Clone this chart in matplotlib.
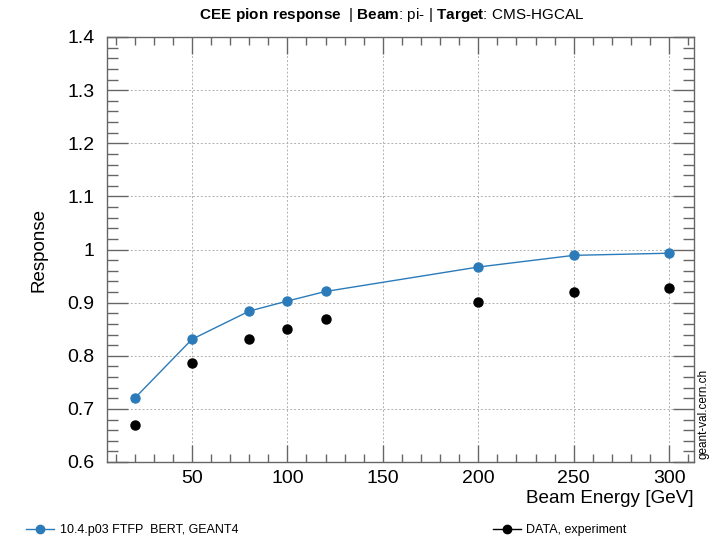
import matplotlib
matplotlib.use("Agg")
import matplotlib.pyplot as plt
from matplotlib.ticker import MultipleLocator
from matplotlib.lines import Line2D

plt.rcParams['font.family'] = ['Liberation Sans', 'DejaVu Sans']
plt.rcParams['mathtext.fontset'] = 'custom'
plt.rcParams['mathtext.rm'] = 'Liberation Sans'
plt.rcParams['mathtext.bf'] = 'Liberation Sans:bold'

energy = [20, 50, 80, 100, 120, 200, 250, 300]
sim_response = [0.720, 0.831, 0.884, 0.903, 0.921, 0.967, 0.989, 0.993]
data_response = [0.669, 0.786, 0.831, 0.851, 0.870, 0.901, 0.920, 0.928]
sim_label = "10.4.p03 FTFP  BERT, GEANT4"
data_label = "DATA, experiment"
blue = '#2b7bba'

fig = plt.figure(figsize=(7.1, 5.36), dpi=100)
ax = fig.add_axes([107/710, 1-462/536, (694-107)/710, (462-37)/536])

ax.plot(energy, sim_response, '-o', color=blue, lw=1.0, ms=6.5, zorder=3)
ax.plot(energy, data_response, 'o', color='black', ms=6.5, lw=0, zorder=3)

ax.set_xlim(5.5, 313)
ax.set_ylim(0.6, 1.4)
ax.xaxis.set_major_locator(MultipleLocator(50))
ax.xaxis.set_minor_locator(MultipleLocator(10))
ax.yaxis.set_major_locator(MultipleLocator(0.1))
ax.yaxis.set_minor_locator(MultipleLocator(0.02))
ax.yaxis.set_major_formatter(plt.FuncFormatter(lambda v, p: "1" if abs(v-1) < 1e-9 else f"{v:.1f}"))
ax.tick_params(which='both', direction='in', top=True, right=True, colors='#666666', labelcolor='black', labelsize=14)
ax.tick_params(axis='y', which='major', length=15, width=1, pad=9)
ax.tick_params(axis='y', which='minor', length=8, width=1)
ax.tick_params(axis='x', which='major', length=12, width=1, pad=6)
ax.tick_params(axis='x', which='minor', length=6, width=1)
ax.grid(True, which='major', color='#b0b0b0', ls=(0, (2, 2)), lw=0.7)
for s in ax.spines.values():
    s.set_color('#666666')
    s.set_linewidth(1.0)

ax.set_ylabel("Response", fontsize=13.5)
ax.yaxis.set_label_coords(-0.102, 0.5)
ax.set_xlabel("Beam Energy [GeV]", fontsize=13.6, loc='right', labelpad=2)

fig.text(392/710, 1-15/536, r"$\bf{CEE\ pion\ response}$  | $\bf{Beam}$: pi- | $\bf{Target}$: CMS-HGCAL",
         ha='center', va='center', fontsize=11)

fig.text(703/710, 1-414/536, "geant-val.cern.ch", rotation=90, ha='center', va='center', fontsize=8.5)

h1 = Line2D([], [], color=blue, marker='o', ms=6, lw=1)
h2 = Line2D([], [], color='black', marker='o', ms=6, lw=1)
fig.legend([h1], [sim_label], loc='center left', bbox_to_anchor=(0.03, 1-530/536), frameon=False,
           fontsize=9, handlelength=2.2, handletextpad=0.5, borderaxespad=0)
fig.legend([h2], [data_label], loc='center left', bbox_to_anchor=(0.688, 1-530/536), frameon=False,
           fontsize=9, handlelength=2.2, handletextpad=0.4, borderaxespad=0)

fig.savefig("out.png", dpi=100)
